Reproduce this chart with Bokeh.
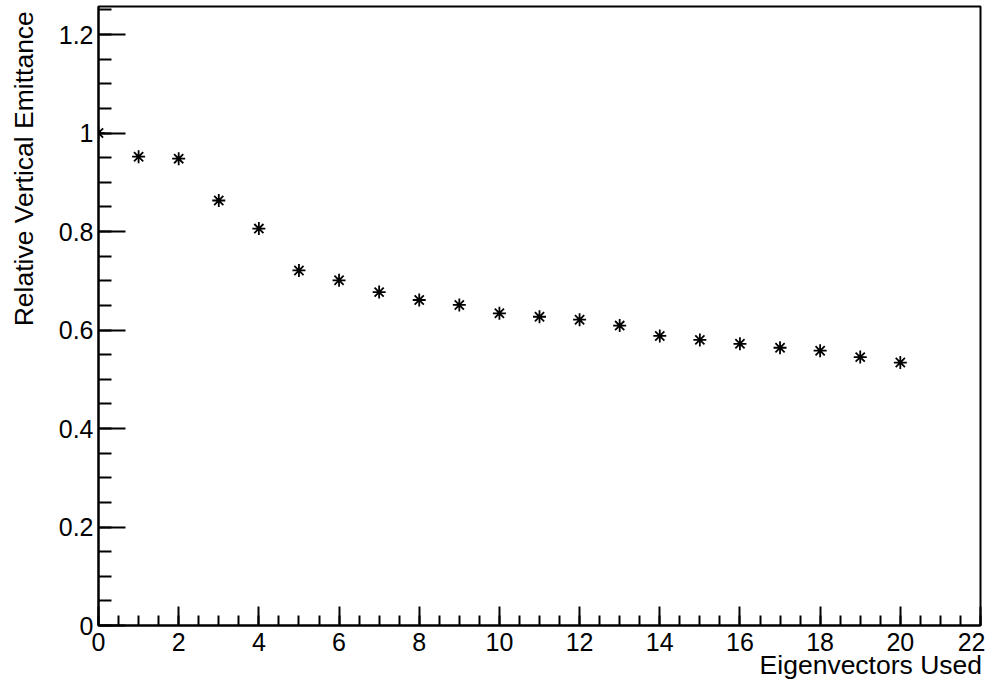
import numpy as np
from bokeh.plotting import figure
from bokeh.models import (ColumnDataSource, Range1d, SingleIntervalTicker,
                          CustomJSTickFormatter)
from bokeh.embed import file_html
from bokeh.resources import INLINE

# ---- data -------------------------------------------------------------
eigenvectors_used = list(range(0, 21))
relative_vertical_emittance = [
    1.000, 0.952, 0.948, 0.863, 0.806, 0.721, 0.701, 0.677, 0.661, 0.651,
    0.634, 0.627, 0.621, 0.609, 0.588, 0.580, 0.572, 0.564, 0.558, 0.545,
    0.534,
]
x_title = "Eigenvectors Used"
y_title = "Relative Vertical Emittance"

FONT = "Liberation Sans"
X_MAX = 22
Y_MAX = 1.257
NBSP = "\u00a0"

source = ColumnDataSource(dict(x=eigenvectors_used, y=relative_vertical_emittance))

p = figure(width=985, height=682, output_backend="svg", toolbar_location=None,
           x_range=Range1d(0, X_MAX), y_range=Range1d(0, Y_MAX),
           min_border_left=98, min_border_right=5, min_border_top=6,
           min_border_bottom=54)

p.background_fill_color = "white"
p.border_fill_color = "white"
p.outline_line_color = "black"
p.outline_line_width = 2
p.xgrid.visible = False
p.ygrid.visible = False

p.scatter("x", "y", source=source, marker="asterisk", size=13,
          line_color="black", line_width=1.8)

# axes in ROOT style: ticks pointing inward
p.xaxis.ticker = SingleIntervalTicker(interval=2, num_minor_ticks=4)
p.yaxis.ticker = SingleIntervalTicker(interval=0.2, num_minor_ticks=4)
fmt = "return String(Math.round(tick*100)/100);"
p.xaxis.formatter = CustomJSTickFormatter(code=fmt)
p.yaxis.formatter = CustomJSTickFormatter(code=fmt)

for ax in (p.xaxis[0], p.yaxis[0]):
    ax.axis_line_color = "black"
    ax.axis_line_width = 2
    ax.major_tick_line_color = "black"
    ax.minor_tick_line_color = "black"
    ax.major_tick_line_width = 2
    ax.minor_tick_line_width = 2
    ax.major_tick_out = 0
    ax.minor_tick_out = 0
    ax.major_label_text_font = FONT
    ax.major_label_text_font_size = "25px"
    ax.major_label_text_color = "black"
    ax.axis_label_text_font = FONT
    ax.axis_label_text_font_size = "26.5px"
    ax.axis_label_text_font_style = "normal"
    ax.axis_label_text_color = "black"

p.xaxis.major_tick_in = 19
p.xaxis.minor_tick_in = 10
p.yaxis.major_tick_in = 27
p.yaxis.minor_tick_in = 13
p.xaxis.major_label_standoff = 7
p.yaxis.major_label_standoff = 5

# axis titles pushed towards the axis ends (ROOT style) with leading padding
p.xaxis.axis_label = NBSP * 90 + x_title
p.yaxis.axis_label = NBSP * 40 + y_title
p.xaxis.axis_label_standoff = -4
p.yaxis.axis_label_standoff = 17

open("out.html", "w").write(file_html(p, INLINE))
